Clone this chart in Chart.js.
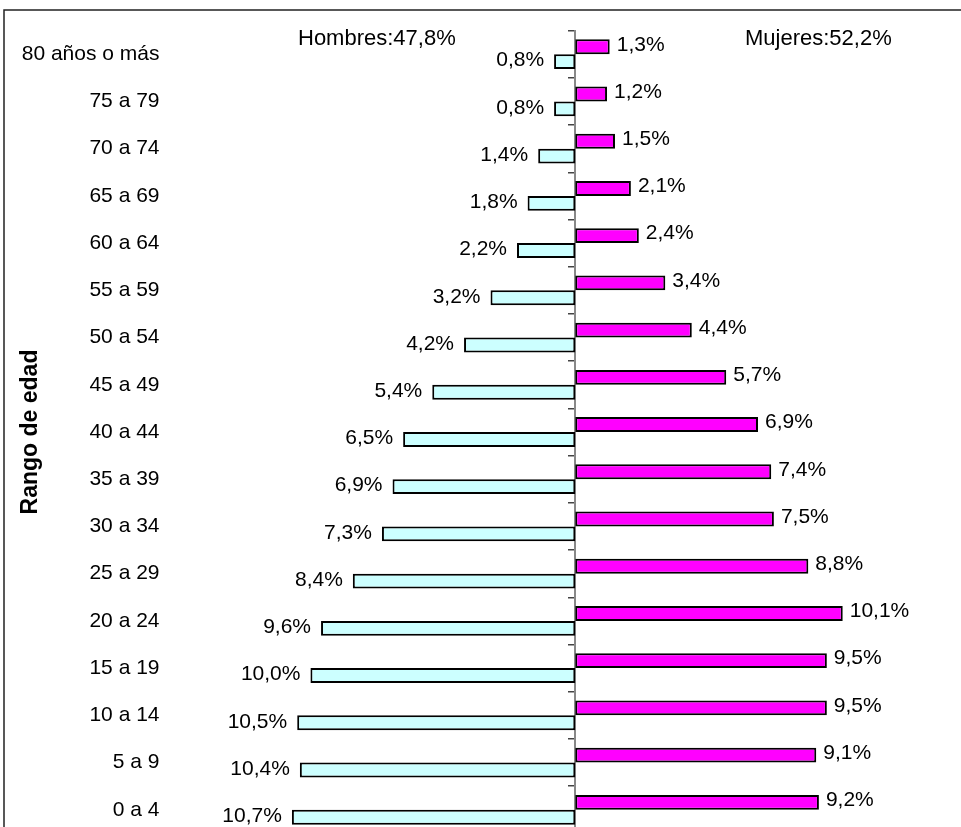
<!DOCTYPE html>
<html>
<head>
<meta charset="utf-8">
<script src="https://cdn.jsdelivr.net/npm/chart.js@4.4.1/dist/chart.umd.min.js"></script>
<style>
    html, body { margin: 0; padding: 0; background: #fff; overflow: hidden; }
    canvas { display: block; }
</style>
</head>
<body>
<canvas id="pyramid" width="961" height="864"></canvas>
<script>
// age groups, top to bottom
const ageGroups = ['80 años o más', '75 a 79', '70 a 74', '65 a 69', '60 a 64', '55 a 59', '50 a 54', '45 a 49',
    '40 a 44', '35 a 39', '30 a 34', '25 a 29', '20 a 24', '15 a 19', '10 a 14', '5 a 9', '0 a 4'];
const hombres = [0.8, 0.8, 1.4, 1.8, 2.2, 3.2, 4.2, 5.4, 6.5, 6.9, 7.3, 8.4, 9.6, 10.0, 10.5, 10.4, 10.7];
const mujeres = [1.3, 1.2, 1.5, 2.1, 2.4, 3.4, 4.4, 5.7, 6.9, 7.4, 7.5, 8.8, 10.1, 9.5, 9.5, 9.1, 9.2];
const headerLabels = ['Hombres:47,8%', 'Mujeres:52,2%'];

const FONT = "'Liberation Sans', Arial, sans-serif";

const fmt = v => Math.abs(v).toFixed(1).replace('.', ',') + '%';

// white page + frame line on the left and top
const framePlugin = {
    id: 'frame',
    beforeDraw(chart) {
        const ctx = chart.ctx;
        ctx.save();
        ctx.fillStyle = '#fff';
        ctx.fillRect(0, 0, chart.width, chart.height);
        ctx.strokeStyle = '#222';
        ctx.lineWidth = 1.5;
        ctx.beginPath();
        ctx.moveTo(4, chart.height);
        ctx.lineTo(4, 10);
        ctx.lineTo(chart.width, 10);
        ctx.stroke();
        ctx.restore();
    }
};

// value labels + the two totals at the top
const labelPlugin = {
    id: 'barLabels',
    afterDatasetsDraw(chart) {
        const ctx = chart.ctx;
        ctx.save();
        ctx.fillStyle = '#000';
        ctx.font = '21px ' + FONT;
        ctx.textBaseline = 'middle';
        chart.data.datasets.forEach((ds, i) => {
            const meta = chart.getDatasetMeta(i);
            meta.data.forEach((bar, j) => {
                const v = ds.data[j];
                if (v >= 0) {
                    ctx.textAlign = 'left';
                    ctx.fillText(fmt(v), bar.x + 7, bar.y - 2);
                } else {
                    ctx.textAlign = 'right';
                    ctx.fillText(fmt(v), bar.x - 10, bar.y - 1);
                }
            });
        });
        ctx.font = '22px ' + FONT;
        ctx.textAlign = 'left';
        ctx.fillText(headerLabels[0], 298, 39);
        ctx.fillText(headerLabels[1], 745, 39);
        ctx.restore();
    }
};

new Chart(document.getElementById('pyramid'), {
    type: 'bar',
    data: {
        labels: ageGroups,
        datasets: [
            {
                label: 'Mujeres',
                data: mujeres,
                backgroundColor: '#FF00FF',
                borderColor: '#000',
                borderWidth: 2,
                borderSkipped: false,
                yAxisID: 'y',
                xAxisID: 'x'
            },
            {
                label: 'Hombres',
                data: hombres.map(v => -v),
                backgroundColor: '#CCFFFF',
                borderColor: '#000',
                borderWidth: 2,
                borderSkipped: false,
                yAxisID: 'y',
                xAxisID: 'x'
            }
        ]
    },
    options: {
        indexAxis: 'y',
        responsive: false,
        animation: false,
        datasets: {
            bar: { categoryPercentage: 0.63, barPercentage: 1.0 }
        },
        layout: { padding: { top: 30, bottom: 30, left: 0, right: 11 } },
        plugins: {
            legend: { display: false },
            tooltip: { enabled: false }
        },
        scales: {
            x: {
                display: false,
                min: -15.02,
                max: 14.15
            },
            y: {
                position: 'left',
                grid: { display: false, drawTicks: false },
                border: { display: false },
                ticks: {
                    color: '#000',
                    font: { family: FONT, size: 21 },
                    padding: 18
                },
                title: {
                    display: true,
                    text: 'Rango de edad',
                    color: '#000',
                    font: { family: FONT, size: 23, weight: 'bold' },
                    padding: { top: 17, bottom: 0 }
                },
                afterFit(scale) { scale.width = 177.5; }
            },
            yc: {
                axis: 'y',
                type: 'category',
                position: { x: 0 },
                offset: true,
                grid: {
                    offset: true,
                    drawOnChartArea: false,
                    drawTicks: true,
                    tickLength: 6,
                    color: '#444',
                    lineWidth: 1.5
                },
                border: { display: true, color: '#888', width: 2 },
                ticks: { display: false }
            }
        }
    },
    plugins: [framePlugin, labelPlugin]
});
</script>
</body>
</html>
